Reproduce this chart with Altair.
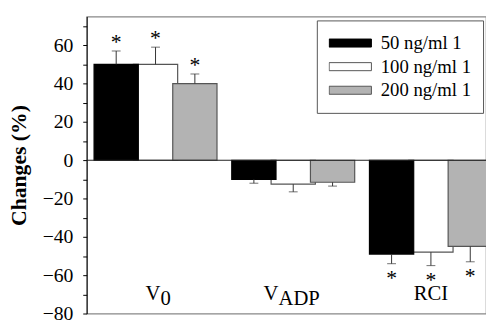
import altair as alt
import pandas as pd

categories = ["V0", "VADP", "RCI"]
label_main = ["V", "V", "RCI"]
label_sub = ["0", "ADP", ""]
significant = [True, False, True]
series = ["50 ng/ml 1", "100 ng/ml 1", "200 ng/ml 1"]

v50 = [50, -10, -49]
v100 = [50, -12.5, -48]
v200 = [40, -11.5, -45]
e50 = [7, 2, 5]
e100 = [9, 4, 7]
e200 = [5, 2, 8]
y_ticks = [-80, -70, -60, -50, -40, -30, -20, -10, 0, 10, 20, 30, 40, 50, 60, 70]

rows = []
for s, vals, errs in zip(series, [v50, v100, v200], [e50, e100, e200]):
    for c, v, e, sg in zip(categories, vals, errs, significant):
        sign = 1 if v >= 0 else -1
        rows.append({"cat": c, "series": s, "value": v, "err": e,
                     "end": v + sign * e, "sig": sg})
df = pd.DataFrame(rows)
df_lab = pd.DataFrame({"cat": categories, "main": label_main, "sub": label_sub})

SERIF = "Liberation Serif"

x = alt.X("cat:N", sort=categories,
          scale=alt.Scale(paddingInner=0, paddingOuter=0, range=[0, 420]), axis=None)
xo = alt.XOffset("series:N", sort=series, scale=alt.Scale(paddingInner=0, paddingOuter=0.25))
yscale = alt.Scale(domain=[-80, 75], nice=False, zero=False)
yaxis = alt.Axis(values=y_ticks, labelExpr="datum.value % 20 == 0 ? datum.label : ''",
                 labelFont=SERIF, labelFontSize=20, labelColor="black", labelPadding=10,
                 tickSize=4, tickColor="black", domainColor="black", grid=False,
                 titleFont=SERIF, titleFontSize=22, titleFontWeight="bold",
                 titleColor="black", titlePadding=12)


def ycol(field):
    return alt.Y(field, scale=yscale, title="Changes (%)", axis=yaxis)


base = alt.Chart(df)

bars = base.mark_bar(width=45, strokeWidth=1.2).encode(
    x=x, xOffset=xo,
    y=ycol("value:Q"),
    y2=alt.datum(0),
    fill=alt.Fill("series:N", sort=series,
                  scale=alt.Scale(domain=series, range=["#000000", "#ffffff", "#b3b3b3"]),
                  legend=alt.Legend(title=None, orient="none", legendX=234, legendY=4,
                                    strokeColor="#555555", fillColor="white", padding=12,
                                    labelFont=SERIF, labelFontSize=19, labelColor="black",
                                    symbolType="M-1,-0.19L1,-0.19L1,0.19L-1,0.19Z",
                                    symbolSize=1849, symbolStrokeWidth=1,
                                    symbolStrokeColor="#444444", clipHeight=22,
                                    rowPadding=2, labelOffset=9, labelLimit=300)),
    stroke=alt.Stroke("series:N", sort=series,
                      scale=alt.Scale(domain=series, range=["#000000", "#555555", "#555555"]),
                      legend=None),
    order=alt.Order("series:N", sort="ascending"),
)

zero = alt.Chart(pd.DataFrame({"z": [0]})).mark_rule(color="#222222", strokeWidth=1.2).encode(
    y=ycol("z:Q"))

err_rule = base.mark_rule(color="#333333", strokeWidth=1).encode(
    x=x, xOffset=xo, y=ycol("value:Q"), y2="end:Q")
err_cap = base.mark_tick(color="#333333", thickness=1, size=9, orient="horizontal").encode(
    x=x, xOffset=xo, y=ycol("end:Q"))

star_up = base.transform_filter("datum.sig && datum.value > 0").mark_text(
    text="*", font=SERIF, fontSize=22, color="black", baseline="alphabetic", dy=-2).encode(
    x=x, xOffset=xo, y=ycol("end:Q"))
star_dn = base.transform_filter("datum.sig && datum.value < 0").mark_text(
    text="*", font=SERIF, fontSize=22, color="black", baseline="alphabetic", dy=22).encode(
    x=x, xOffset=xo, y=ycol("end:Q"))

label_layers = []
offsets = {"V0": (5, 5), "VADP": (-15, -15), "RCI": (0, 0)}
for c, sub in zip(categories, label_sub):
    dmain, dsub = offsets[c]
    lab = alt.Chart(df_lab).transform_filter(alt.datum.cat == c)
    align_main = "center" if sub == "" else "right"
    label_layers.append(lab.transform_calculate(yv="-73").mark_text(
        font=SERIF, fontSize=21, color="black", align=align_main,
        baseline="alphabetic", dx=dmain).encode(
        x=x, y=ycol("yv:Q"), text="main:N"))
    if sub:
        label_layers.append(lab.transform_calculate(yv="-75.5").mark_text(
            font=SERIF, fontSize=21, color="black", align="left",
            baseline="alphabetic", dx=dsub).encode(
            x=x, y=ycol("yv:Q"), text="sub:N"))

chart = alt.layer(bars, zero, err_rule, err_cap, star_up, star_dn, *label_layers).properties(
    width=406, height=302,
    autosize=alt.AutoSizeParams(type="none"),
    padding={"left": 80, "top": 6, "right": 0, "bottom": 7},
).configure(
    background="white", font=SERIF,
    style={"guide-label": {"font": SERIF, "fill": "black"}},
).configure_view(
    stroke="#888888", strokeWidth=1.2,
)

chart.save("out.html", embed_options={"renderer": "svg", "actions": False})
